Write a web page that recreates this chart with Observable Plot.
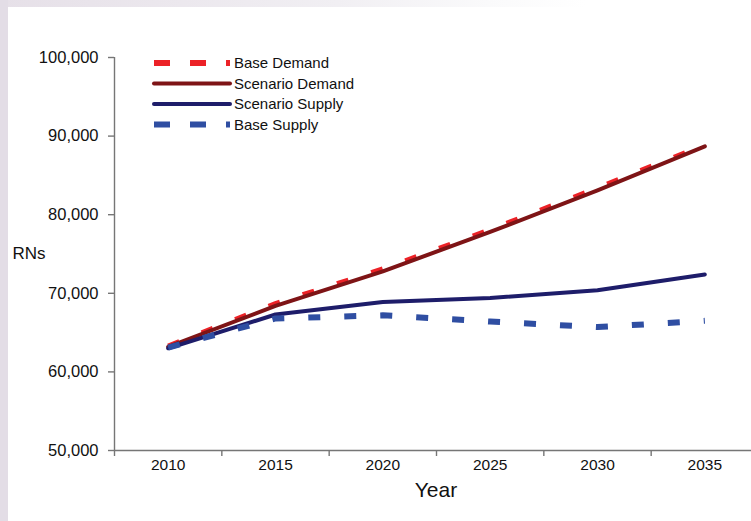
<!DOCTYPE html>
<html>
<head>
<meta charset="utf-8">
<script src="https://cdn.jsdelivr.net/npm/d3@7"></script>
<script src="https://cdn.jsdelivr.net/npm/@observablehq/plot@0.6"></script>
<style>
  html, body { margin: 0; padding: 0; background: #fff; }
  #wrap {
    position: relative; width: 751px; height: 521px; overflow: hidden;
    background:
      linear-gradient(to right, #e3dde6 0 8px, transparent 8px 100%),
      linear-gradient(to right, #e6e0e8 0%, #f1eff3 45%, #fafafb 65%, #ffffff 78%) top left / 100% 7px no-repeat,
      #ffffff;
    font-family: "Liberation Sans", Arial, sans-serif;
  }
  #chart { position: absolute; left: 0; top: 0; }
  #legend { position: absolute; left: 150px; top: 52px; }
</style>
</head>
<body>
<div id="wrap">
  <div id="chart"></div>
  <div id="legend"></div>
</div>
<script>
// ---- data ----
const years = [2010, 2015, 2020, 2025, 2030, 2035];
const baseDemand     = [63300, 68700, 73100, 78100, 83400, 88900];
const scenarioDemand = [63200, 68400, 72800, 77800, 83100, 88700];
const scenarioSupply = [63000, 67300, 68900, 69400, 70400, 72400];
const baseSupply     = [63100, 66800, 67200, 66400, 65700, 66500];
const seriesNames = ["Base Demand", "Scenario Demand", "Scenario Supply", "Base Supply"];
const yTicks = [50000, 60000, 70000, 80000, 90000, 100000];
const yTitle = "RNs";
const xTitle = "Year";

// ---- styles ----
const styles = {
  "Base Demand":     {stroke: "#ec2227", strokeWidth: 5, dash: "12,24", legendDash: "16,20"},
  "Scenario Demand": {stroke: "#7e1416", strokeWidth: 4, dash: null},
  "Scenario Supply": {stroke: "#1e1d6a", strokeWidth: 4, dash: null},
  "Base Supply":     {stroke: "#2f4ea2", strokeWidth: 6, dash: "12,24", legendDash: "16,20"}
};
const seriesValues = {
  "Base Demand": baseDemand,
  "Scenario Demand": scenarioDemand,
  "Scenario Supply": scenarioSupply,
  "Base Supply": baseSupply
};
const rows = seriesNames.flatMap(name => years.map((year, i) => ({series: name, year, value: seriesValues[name][i]})));

const step = years[1] - years[0];
const xDomain = [years[0] - step / 2, years[years.length - 1] + step / 2];
const boundaries = d3.range(years.length + 1).map(i => xDomain[0] + i * step);
const axisColor = "#767676";
const font = "'Liberation Sans', Arial, sans-serif";

const lineMarks = seriesNames.map(name => {
  const s = styles[name];
  return Plot.line(rows.filter(d => d.series === name), {
    x: "year", y: "value",
    stroke: s.stroke, strokeWidth: s.strokeWidth,
    strokeDasharray: s.dash || undefined,
    strokeLinecap: s.dash ? "butt" : "round",
    strokeLinejoin: "round"
  });
});

const chart = Plot.plot({
  width: 751, height: 521,
  marginTop: 57, marginBottom: 71, marginLeft: 114, marginRight: 0,
  style: {background: "transparent", fontFamily: font, color: "#111"},
  x: {domain: xDomain, range: [114, 758]},
  y: {domain: [yTicks[0], yTicks[yTicks.length - 1]]},
  marks: [
    Plot.ruleY([yTicks[0]], {stroke: axisColor, strokeWidth: 1.4}),
    Plot.ruleX([xDomain[0]], {stroke: axisColor, strokeWidth: 1.4}),
    Plot.axisY({ticks: yTicks, tickSize: 6, tickPadding: 10, tickFormat: d3.format(","),
                fontSize: 16.5, stroke: axisColor, strokeWidth: 1.4, fill: "#111", label: null}),
    Plot.axisX({ticks: boundaries, tickSize: 6, tickFormat: () => "", stroke: axisColor, strokeWidth: 1.4, label: null}),
    Plot.axisX({ticks: years, tickSize: 0, tickPadding: 8, tickFormat: d => String(d),
                fontSize: 15.5, fill: "#111", label: null}),
    Plot.text([yTitle], {frameAnchor: "left", dx: -102, textAnchor: "start", fontSize: 17, fill: "#111"}),
    Plot.text([xTitle], {frameAnchor: "bottom", dy: 46, dx: 3, fontSize: 21, fill: "#111"}),
    ...lineMarks
  ]
});
document.getElementById("chart").appendChild(chart);

// ---- legend ----
const lg = d3.select("#legend").append("svg").attr("width", 260).attr("height", 90)
  .style("font-family", font).style("overflow", "visible");
seriesNames.forEach((name, i) => {
  const s = styles[name];
  const yy = 11 + i * 20.5;
  lg.append("line").attr("x1", 4).attr("x2", 80).attr("y1", yy).attr("y2", yy)
    .attr("stroke", s.stroke).attr("stroke-width", s.dash ? 6 : 4)
    .attr("stroke-dasharray", s.legendDash || null)
    .attr("stroke-linecap", s.dash ? "butt" : "round");
  lg.append("text").attr("x", 84).attr("y", yy).attr("dy", "0.36em")
    .attr("font-size", 15).attr("fill", "#111").text(name);
});
</script>
</body>
</html>
